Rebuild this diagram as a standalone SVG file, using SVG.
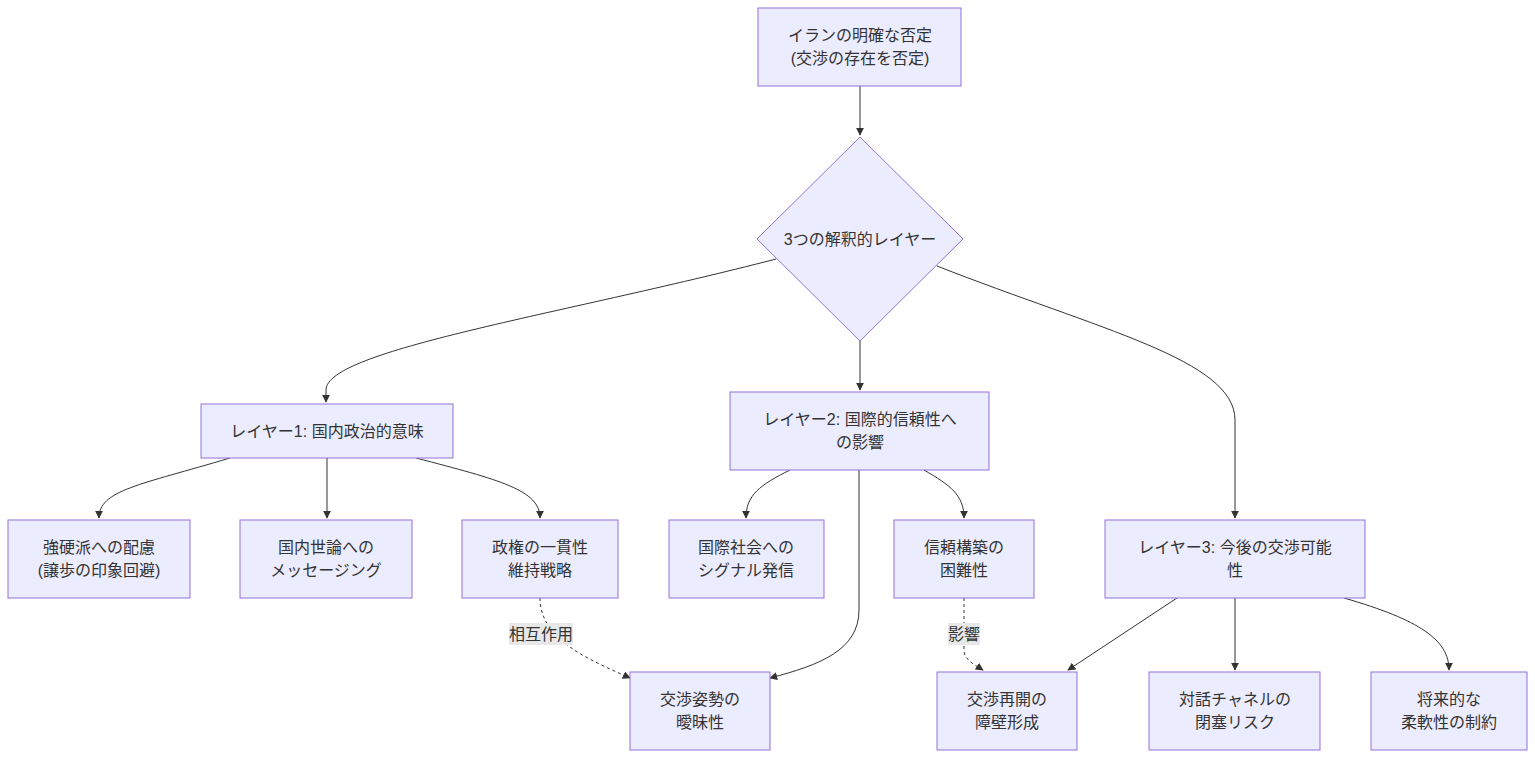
<svg xmlns="http://www.w3.org/2000/svg" width="1535" height="758" viewBox="0 0 1535 758">
<style>
.n{fill:#ECECFF;stroke:#9370DB;stroke-width:1}
.t{font-family:"Liberation Sans","Noto Sans CJK JP",sans-serif;font-size:16px;fill:#333;text-anchor:middle;dominant-baseline:central}
.e{fill:none;stroke:#333;stroke-width:1}
.d{stroke-dasharray:3 3}
.lb{fill:#e8e8e8}
</style>
<defs><marker id="a" viewBox="0 0 10 10" refX="9" refY="5" markerWidth="8" markerHeight="8" orient="auto"><path d="M0,0L10,5L0,10z" fill="#333"/></marker></defs>
<rect width="1535" height="758" fill="#fff"/>
<g id="edges">
<path class="e" marker-end="url(#a)" d="M860,86L860,135"/>
<path class="e" marker-end="url(#a)" d="M776,259C560,315 326,350 326,390L326,402"/>
<path class="e" marker-end="url(#a)" d="M860,341L860,390"/>
<path class="e" marker-end="url(#a)" d="M937,266C1100,330 1235,360 1235,420L1235,518"/>
<path class="e" marker-end="url(#a)" d="M230,458C140,485 99,490 99,518"/>
<path class="e" marker-end="url(#a)" d="M327,458L327,518"/>
<path class="e" marker-end="url(#a)" d="M416,458C500,480 540,490 540,518"/>
<path class="e" marker-end="url(#a)" d="M790,470C760,485 746,495 746,518"/>
<path class="e" marker-end="url(#a)" d="M859,470L859,610C859,650 820,665 770,678"/>
<path class="e" marker-end="url(#a)" d="M924,470C950,485 964,495 964,518"/>
<path class="e d" marker-end="url(#a)" d="M540,598C540,640 590,660 630,678"/>
<path class="e d" marker-end="url(#a)" d="M964,598L964,650C964,660 975,665 983,670"/>
<path class="e" marker-end="url(#a)" d="M1177,598L1068,670"/>
<path class="e" marker-end="url(#a)" d="M1235,598L1235,670"/>
<path class="e" marker-end="url(#a)" d="M1344,598C1420,620 1449,640 1449,670"/>
<rect class="lb" x="509" y="623" width="64" height="22"/><text class="t" x="541" y="634">相互作用</text>
<rect class="lb" x="948" y="623" width="32" height="22"/><text class="t" x="964" y="634">影響</text>
</g>
<g id="n0"><rect class="n" x="758" y="8" width="203" height="78"/><text class="t" x="860" y="35">イランの明確な否定</text><text class="t" x="860" y="58">(交渉の存在を否定)</text></g>
<g id="n1"><path class="n" d="M860,137L963,239L860,341L757,239z"/><text class="t" x="860" y="239">3つの解釈的レイヤー</text></g>
<g id="n2"><rect class="n" x="201" y="404" width="252" height="54"/><text class="t" x="327" y="431">レイヤー1: 国内政治的意味</text></g>
<g id="n3"><rect class="n" x="730" y="392" width="259" height="78"/><text class="t" x="860" y="419">レイヤー2: 国際的信頼性へ</text><text class="t" x="860" y="442">の影響</text></g>
<g id="n4"><rect class="n" x="1105" y="520" width="260" height="78"/><text class="t" x="1235" y="547">レイヤー3: 今後の交渉可能</text><text class="t" x="1235" y="570">性</text></g>
<g id="n5"><rect class="n" x="8" y="520" width="182" height="78"/><text class="t" x="99" y="547">強硬派への配慮</text><text class="t" x="99" y="570">(譲歩の印象回避)</text></g>
<g id="n6"><rect class="n" x="240" y="520" width="172" height="78"/><text class="t" x="326" y="547">国内世論への</text><text class="t" x="326" y="570">メッセージング</text></g>
<g id="n7"><rect class="n" x="462" y="520" width="156" height="78"/><text class="t" x="540" y="547">政権の一貫性</text><text class="t" x="540" y="570">維持戦略</text></g>
<g id="n8"><rect class="n" x="669" y="520" width="155" height="78"/><text class="t" x="746" y="547">国際社会への</text><text class="t" x="746" y="570">シグナル発信</text></g>
<g id="n9"><rect class="n" x="894" y="520" width="140" height="78"/><text class="t" x="964" y="547">信頼構築の</text><text class="t" x="964" y="570">困難性</text></g>
<g id="n10"><rect class="n" x="630" y="672" width="140" height="78"/><text class="t" x="700" y="699">交渉姿勢の</text><text class="t" x="700" y="722">曖昧性</text></g>
<g id="n11"><rect class="n" x="937" y="672" width="140" height="78"/><text class="t" x="1007" y="699">交渉再開の</text><text class="t" x="1007" y="722">障壁形成</text></g>
<g id="n12"><rect class="n" x="1149" y="672" width="171" height="78"/><text class="t" x="1235" y="699">対話チャネルの</text><text class="t" x="1235" y="722">閉塞リスク</text></g>
<g id="n13"><rect class="n" x="1371" y="672" width="156" height="78"/><text class="t" x="1449" y="699">将来的な</text><text class="t" x="1449" y="722">柔軟性の制約</text></g>
</svg>
